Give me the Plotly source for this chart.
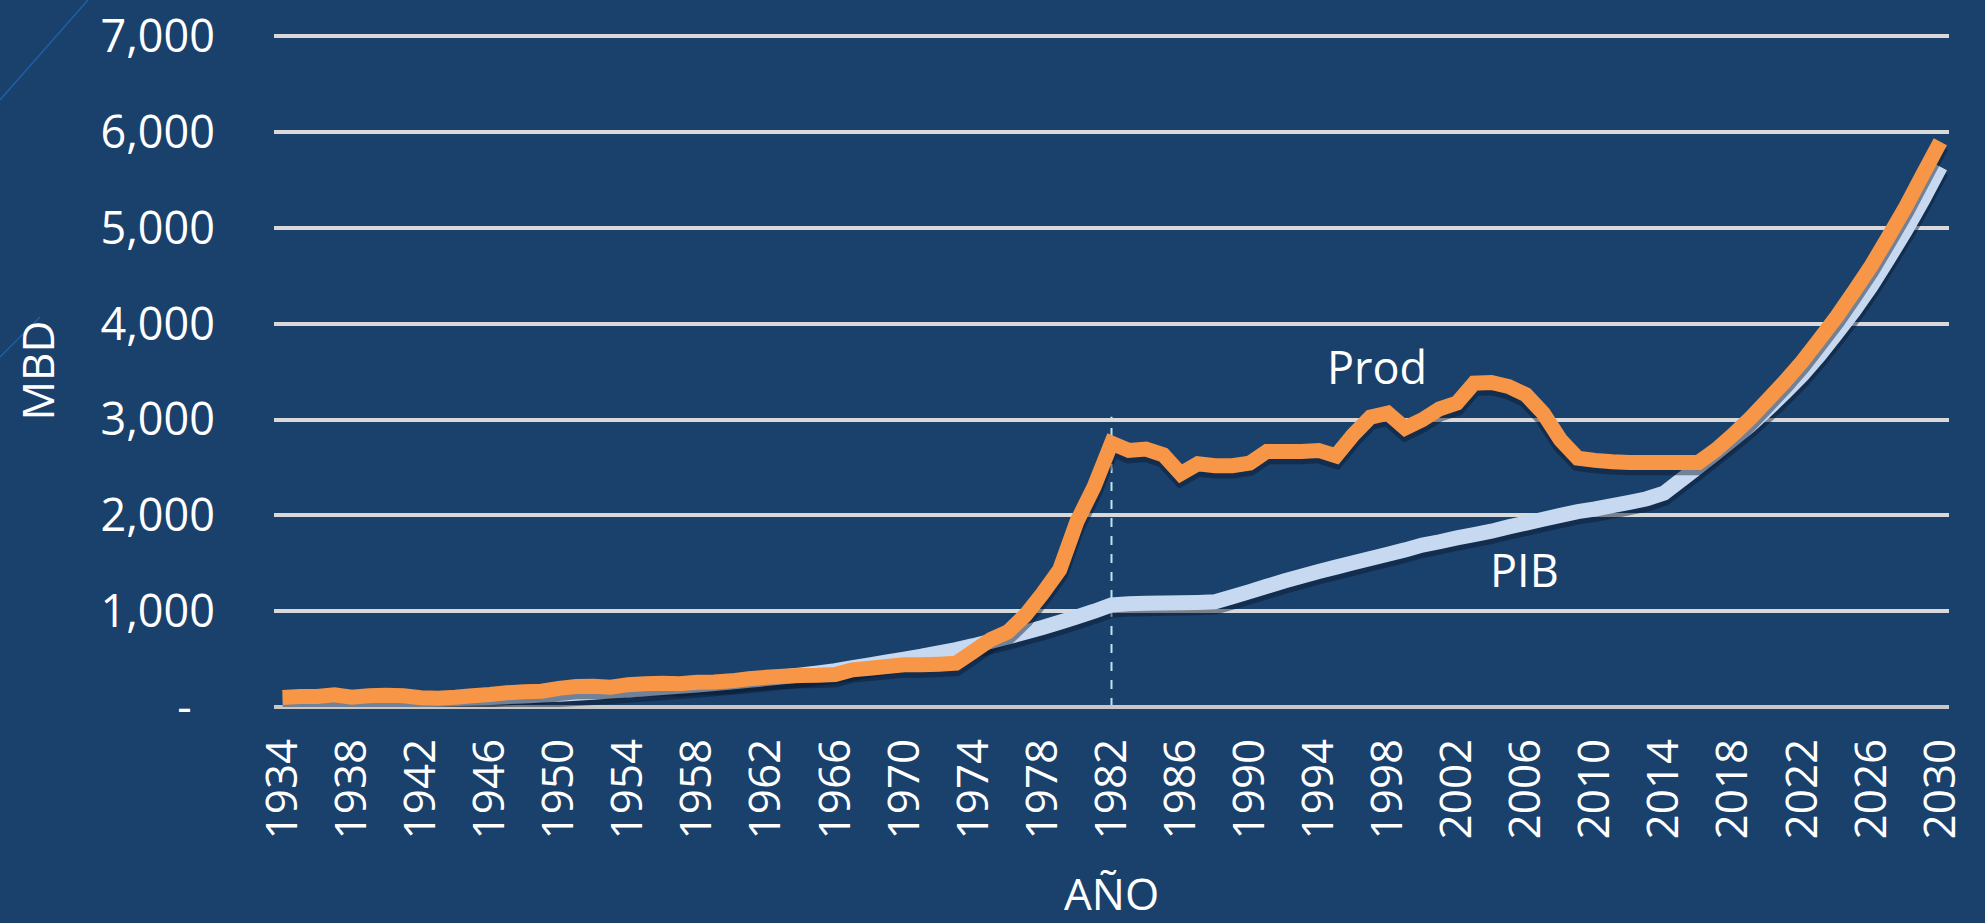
import plotly.graph_objects as go

# ---------------- data ----------------
years = list(range(1934, 2031))

prod = [100, 110, 110, 128, 102, 117, 122, 117, 96, 92,          # 1934-1943
        101, 117, 130, 148, 160, 165, 195, 214, 217, 207,        # 1944-1953
        233, 242, 248, 242, 259, 262, 273, 294, 310, 322,        # 1954-1963
        330, 332, 339, 388, 405, 422, 440, 440, 447, 457,        # 1964-1973
        579, 704, 784, 957, 1183, 1434, 1937, 2302, 2755, 2678,  # 1974-1983
        2692, 2633, 2435, 2539, 2518, 2518, 2546, 2668, 2668, 2668,  # 1984-1993
        2678, 2622, 2842, 3026, 3068, 2911, 2998, 3113, 3172, 3380,  # 1994-2003
        3387, 3345, 3259, 3068, 2789, 2598, 2574, 2560, 2553, 2553,  # 2004-2013
        2553, 2553, 2553, 2685, 2842, 3015, 3206, 3398, 3606, 3839,  # 2014-2023
        4075, 4336, 4607, 4910, 5222, 5563, 5900]                    # 2024-2030

pib = [55, 57, 60, 62, 65, 67, 70, 73, 76, 80,                   # 1934-1943
       86, 93, 100, 108, 116, 125, 134, 144, 155, 166,           # 1944-1953
       178, 190, 203, 216, 230, 245, 261, 278, 296, 315,         # 1954-1963
       335, 356, 380, 410, 440, 470, 500, 530, 565, 600,         # 1964-1973
       640, 685, 730, 780, 830, 885, 940, 1000, 1065, 1078,      # 1974-1983
       1082, 1085, 1088, 1092, 1098, 1150, 1205, 1260, 1315, 1365,  # 1984-1993
       1415, 1460, 1505, 1550, 1595, 1640, 1690, 1725, 1765, 1800,  # 1994-2003
       1835, 1880, 1920, 1960, 2000, 2040, 2067, 2101, 2136, 2174,  # 2004-2013
       2233, 2372, 2511, 2651, 2797, 2946, 3110, 3283, 3467, 3676,  # 2014-2023
       3902, 4138, 4395, 4684, 4979, 5299, 5639]                    # 2024-2030

x_tick_years = list(range(1934, 2031, 4))
x_tick_labels = [str(y) for y in x_tick_years]
y_tick_values = [0, 1000, 2000, 3000, 4000, 5000, 6000, 7000]
y_tick_labels = ["-\u00a0\u00a0", "1,000", "2,000", "3,000", "4,000", "5,000", "6,000", "7,000"]

marker_year = 1982
marker_top = 3030

# ---------------- styling ----------------
BG = "#1a406c"
FONT = "Open Sans"
WHITE = "#ffffff"
GRID = "#d9d9d9"
ORANGE = "#f79646"
LIGHTBLUE = "#c6d9f1"
SHADOW = "rgba(8,22,42,0.45)"
SHADOW_DROP = 45  # soft drop shadow offset (in value units, ~4 px)

fig = go.Figure()

def add_series(values, color, name):
    fig.add_trace(go.Scatter(
        x=years, y=[v - SHADOW_DROP for v in values], mode="lines",
        line=dict(color=SHADOW, width=17, simplify=False),
        hoverinfo="skip", showlegend=False))
    fig.add_trace(go.Scatter(
        x=years, y=values, mode="lines", name=name,
        line=dict(color=color, width=15, simplify=False), hoverinfo="x+y"))

add_series(pib, LIGHTBLUE, "PIB")
add_series(prod, ORANGE, "Prod")

fig.update_layout(
    width=1985, height=923,
    paper_bgcolor=BG, plot_bgcolor=BG,
    margin=dict(l=274, r=36, t=34, b=216, pad=0, autoexpand=False),
    showlegend=False,
    font=dict(family=FONT, color=WHITE, size=44),
    xaxis=dict(
        range=[1933.5, 2030.5], automargin=False,
        tickmode="array", tickvals=x_tick_years, ticktext=x_tick_labels,
        tickangle=-90, showgrid=False, zeroline=False, showline=False,
        ticks="", ticklabelstandoff=22,
        tickfont=dict(family=FONT, size=44, color=WHITE),
    ),
    yaxis=dict(
        range=[0, 7025], automargin=False,
        tickmode="array", tickvals=y_tick_values, ticktext=y_tick_labels,
        showgrid=True, gridcolor=GRID, gridwidth=4,
        zeroline=True, zerolinecolor="#c8c8c8", zerolinewidth=4,
        showline=False, ticks="", ticklabelstandoff=58,
        tickfont=dict(family=FONT, size=45, color=WHITE),
    ),
)

# dashed reference line at 1982
fig.add_shape(type="line", xref="x", yref="y",
              x0=marker_year, x1=marker_year, y0=0, y1=marker_top,
              line=dict(color="#bfe4ee", width=2, dash="dash"), layer="below")

# decorative thin diagonal lines at top-left (slide decoration)
def px_to_paper(px, py):
    return (px - 274) / 1675.0, (707.0 - py) / 673.0

for (ax0, ay0, ax1, ay1) in [(0, 100, 88, 0), (0, 357, 40, 317)]:
    x0, y0 = px_to_paper(ax0, ay0)
    x1, y1 = px_to_paper(ax1, ay1)
    fig.add_shape(type="line", xref="paper", yref="paper",
                  x0=x0, y0=y0, x1=x1, y1=y1,
                  line=dict(color="#1f5ea6", width=1.5))

# series labels
fig.add_annotation(x=1997.4, y=3551, xref="x", yref="y", text="Prod",
                   showarrow=False, font=dict(family=FONT, size=45, color=WHITE))
fig.add_annotation(x=2005.9, y=1434, xref="x", yref="y", text="PIB",
                   showarrow=False, font=dict(family=FONT, size=45, color=WHITE))

# axis titles
fig.add_annotation(x=(36 - 274) / 1675.0, y=0.5, xref="paper", yref="paper",
                   text="MBD", textangle=-90, showarrow=False,
                   xanchor="center", yanchor="middle",
                   font=dict(family=FONT, size=44, color=WHITE))
fig.add_annotation(x=0.5, y=(707.0 - 893) / 673.0, xref="paper", yref="paper",
                   text="AÑO", showarrow=False,
                   xanchor="center", yanchor="middle",
                   font=dict(family=FONT, size=44, color=WHITE))

fig.write_html("out.html", config={"displayModeBar": False},
               post_script="document.body.style.margin='0';document.body.style.background='%s';" % BG)
